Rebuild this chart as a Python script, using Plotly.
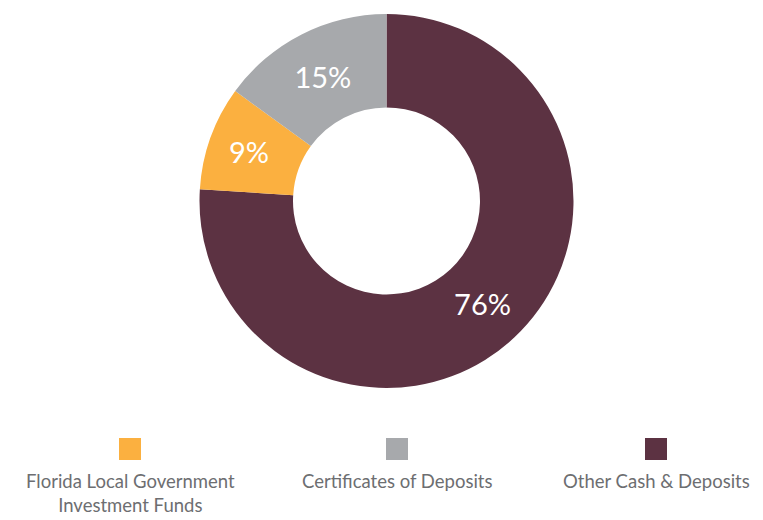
import plotly.graph_objects as go

# Portfolio composition (percent of total)
categories = ["Florida Local Government<br>Investment Funds", "Certificates of Deposits", "Other Cash & Deposits"]
shares = [9, 15, 76]
colors = ["#FBB040", "#A7A9AC", "#5C3242"]

# Slice order going clockwise from 12 o'clock
pie_order = [2, 0, 1]

W, H = 763, 520
cx, cy, R = 386.5, 201, 187

fig = go.Figure(go.Pie(
    labels=[categories[i] for i in pie_order],
    values=[shares[i] for i in pie_order],
    marker=dict(colors=[colors[i] for i in pie_order], line=dict(width=0)),
    hole=0.5,
    sort=False,
    direction="clockwise",
    rotation=0,
    texttemplate="%{value}%",
    textposition="inside",
    insidetextorientation="horizontal",
    textfont=dict(family="Lato", size=29, color="white"),
    hoverinfo="label+percent",
    showlegend=False,
    domain=dict(x=[(cx - R) / W, (cx + R) / W], y=[1 - (cy + R) / H, 1 - (cy - R) / H]),
))

# Custom legend: swatch above, centered caption below
legend_x = [130, 397, 656]
sq = 11
for x, name, col in zip(legend_x, categories, colors):
    fig.add_shape(type="rect", xref="paper", yref="paper",
                  x0=(x - sq) / W, x1=(x + sq) / W,
                  y0=1 - (449 + sq) / H, y1=1 - (449 - sq) / H,
                  fillcolor=col, line=dict(width=0))
    fig.add_annotation(x=x / W, y=1 - 469 / H, xref="paper", yref="paper",
                       text=name, showarrow=False, xanchor="center", yanchor="top",
                       align="center", borderpad=0,
                       font=dict(family="Lato", size=18.5, color="#6D6E71"))

fig.update_layout(
    width=W, height=H,
    margin=dict(l=0, r=0, t=0, b=0),
    paper_bgcolor="white",
    plot_bgcolor="white",
)

fig.write_html("out.html")
